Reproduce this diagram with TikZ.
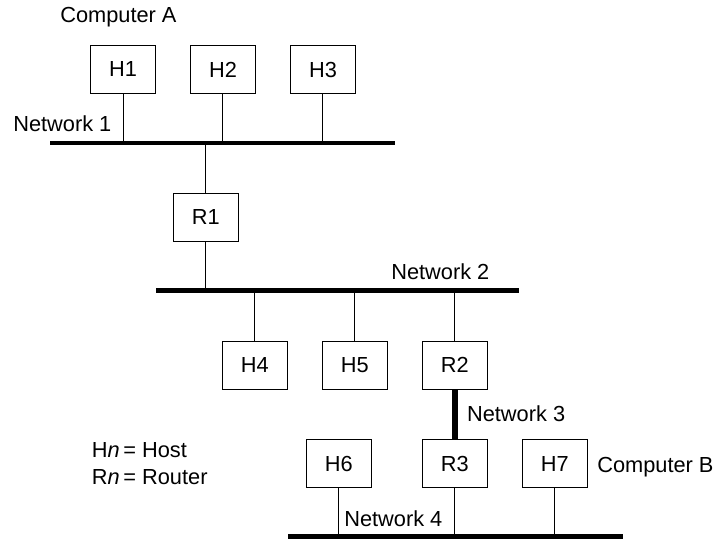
\documentclass[tikz,border=0pt]{standalone}
\usepackage{fontspec}
\setmainfont{Liberation Sans}
\usepackage{tikz}
\usetikzlibrary{positioning}
\tikzset{
  % Host or router box
  unit/.style={
    rectangle, draw=black, line width=0.7pt,
    minimum width=1.625cm, minimum height=1.2cm, inner sep=0pt,
    font=\fontsize{15.5}{18}\selectfont
  },
  % Network bus
  bus/.style={line width=3.3pt, color=black},
  % Point-to-point network
  link/.style={line width=4pt, color=black},
  % Tap from a box down or up to a bus
  tap/.style={line width=0.7pt, color=black},
  % Plain text label
  lbl/.style={font=\fontsize{15.5}{19}\selectfont, inner sep=0pt, anchor=base west}
}
\begin{document}
\begin{tikzpicture}
  \useasboundingbox (0,0) rectangle (17.95,-13.475);

  % Network 1 and its hosts
  \node[unit] (h1) at (3.075,-1.7375) {H1};
  \node[unit, right=0.85cm of h1] (h2) {H2};
  \node[unit, right=0.85cm of h2] (h3) {H3};
  \coordinate (net1w) at (1.25,-3.575);
  \coordinate (net1e) at (9.875,-3.575);

  % Router between networks 1 and 2
  \node[unit] (r1) at (5.1425,-5.425) {R1};

  % Network 2 and its hosts
  \coordinate (net2w) at (3.9,-7.27);
  \coordinate (net2e) at (12.975,-7.27);
  \node[unit] (h4) at (6.37,-9.125) {H4};
  \node[unit, right=0.85cm of h4] (h5) {H5};
  \node[unit, right=0.85cm of h5] (r2) {R2};

  % Network 4 and its hosts
  \node[unit, below=1.25cm of r2] (r3) {R3};
  \node[unit, left=1.25cm of r3]  (h6) {H6};
  \node[unit, right=0.85cm of r3] (h7) {H7};
  \coordinate (net4w) at (7.2,-13.42);
  \coordinate (net4e) at (15.575,-13.42);

  \draw[bus] (net1w) -- (net1e);
  \draw[bus] (net2w) -- (net2e);
  \draw[bus] (net4w) -- (net4e);
  \draw[link] (r2) -- (r3);

  \draw[tap] (h1) -- (h1 |- net1w);
  \draw[tap] (h2) -- (h2 |- net1w);
  \draw[tap] (h3) -- (h3 |- net1w);
  \draw[tap] (r1) -- (r1 |- net1w);
  \draw[tap] (r1) -- (r1 |- net2w);
  \draw[tap] (h4) -- (h4 |- net2w);
  \draw[tap] (h5) -- (h5 |- net2w);
  \draw[tap] (r2) -- (r2 |- net2w);
  \draw[tap] (h6) -- (h6 |- net4w);
  \draw[tap] (r3) -- (r3 |- net4w);
  \draw[tap] (h7) -- (h7 |- net4w);

  % Labels
  \node[lbl] (compa) at (1.5,-0.57)    {Computer A};
  \node[lbl] (lnet1) at (0.325,-3.29)  {Network 1};
  \node[lbl] (lnet2) at (9.775,-6.975) {Network 2};
  \node[lbl] (lnet3) at (11.67,-10.53) {Network 3};
  \node[lbl] (lnet4) at (8.6,-13.17)   {Network 4};
  \node[lbl] (compb) at (14.925,-11.81) {Computer B};
  \node[lbl, align=left] (legend) at (2.29,-12.11) {H\textit{n}\,= Host\\R\textit{n}\,= Router};
\end{tikzpicture}
\end{document}
